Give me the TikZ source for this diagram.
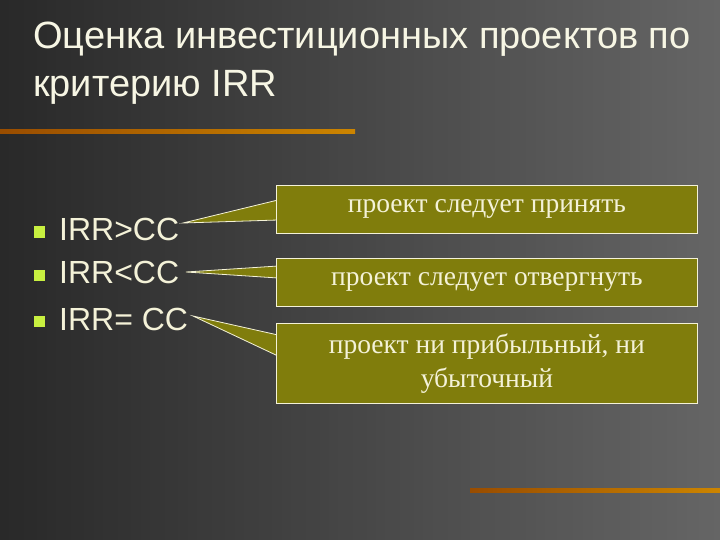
\documentclass[tikz,border=0pt]{standalone}
\usepackage{fontspec}
\setmainfont{Liberation Serif}
\newfontfamily\arial{Liberation Sans}
\begin{document}
\begin{tikzpicture}[x=1pt,y=-1pt,
  box/.style={draw=cream,line width=0.8pt,fill=olivebox,text=cream,font=\fontsize{27.5}{34}\selectfont,align=center,anchor=north west,minimum width=421pt,inner sep=0pt},
  ptr/.style={draw=cream,line width=0.8pt,fill=olivebox},
  item/.style={text=cream,font=\arial\fontsize{32}{36}\selectfont,anchor=west,inner sep=0pt},
  bul/.style={fill=limeb,minimum size=11pt,inner sep=0pt}]
\definecolor{cream}{HTML}{F4F2D8}
\definecolor{olivebox}{HTML}{807D0C}
\definecolor{limeb}{HTML}{C8F040}
\useasboundingbox (0,0) rectangle (720,540);
\shade[shading angle=135,left color=black!88,right color=black!58] (0,0) rectangle (720,540);
\shade[left color=black!80,right color=black!62,opacity=0.5] (0,0) rectangle (720,540);
\node[text=cream!70!white,font=\arial\fontsize{38}{48}\selectfont,align=left,anchor=north west,inner sep=0pt] (title) at (33,22) {Оценка инвестиционных проектов по\\критерию IRR};
\shade[left color=orange!60!black,right color=orange!70!yellow!80!black] (0,130) rectangle (355,134);
\shade[left color=orange!60!black,right color=orange!70!yellow!80!black] (470,488) rectangle (720,492);
\node[bul] (b1) at (39,232) {};
\node[bul] (b2) at (39,275) {};
\node[bul] (b3) at (39,321) {};
\node[item] (t1) at (59,229) {IRR>CC};
\node[item] (t2) at (59,272) {IRR<CC};
\node[item] (t3) at (59,319) {IRR= CC};
\coordinate (p1) at (183,223);
\coordinate (p2) at (186,272);
\coordinate (p3) at (193,316);
\draw[ptr] (278,200) -- (p1) -- (278,220) -- cycle;
\draw[ptr] (278,266) -- (p2) -- (278,278) -- cycle;
\draw[ptr] (278,335) -- (p3) -- (278,356) -- cycle;
\node[box,minimum height=48pt] (c1) at (276,185) {\raisebox{-3pt}{проект следует принять}};
\node[box,minimum height=48pt] (c2) at (276,258) {\raisebox{-6pt}{проект следует отвергнуть}};
\node[box,minimum height=80pt] (c3) at (276,323) {\raisebox{-4pt}{проект ни прибыльный, ни}\\\raisebox{-4pt}{убыточный}};
\end{tikzpicture}
\end{document}
